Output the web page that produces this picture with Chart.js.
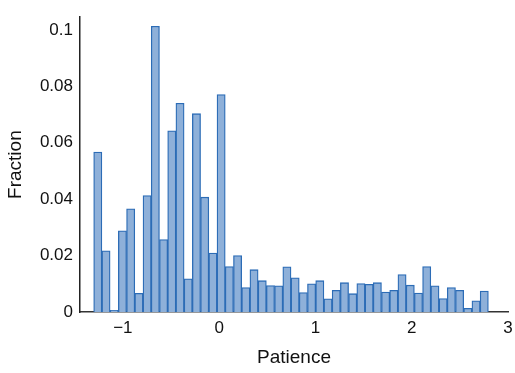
<!DOCTYPE html>
<html>
<head>
<meta charset="utf-8">
<script src="https://cdn.jsdelivr.net/npm/chart.js@4"></script>
<style>
  html, body { margin: 0; padding: 0; background: #fff; }
  #wrap { width: 515px; height: 373px; }
</style>
</head>
<body>
<div id="wrap"><canvas id="histChart" width="515" height="373"></canvas></div>
<script>
// histogram bins: first left edge and width (Patience units)
const binStart = -1.303;
const binWidth = 0.0854;
const fractions = [
  0.0567, 0.0217, 0.0006, 0.0288, 0.0366, 0.0066, 0.0413, 0.1013,
  0.0257, 0.0642, 0.0740, 0.0118, 0.0703, 0.0407, 0.0209, 0.0771,
  0.0161, 0.0200, 0.0087, 0.0150, 0.0111, 0.0094, 0.0093, 0.0160,
  0.0121, 0.0069, 0.0100, 0.0111, 0.0047, 0.0077, 0.0104, 0.0065,
  0.0101, 0.0098, 0.0104, 0.0071, 0.0077, 0.0133, 0.0095, 0.0067,
  0.0161, 0.0093, 0.0048, 0.0087, 0.0077, 0.0013, 0.0040, 0.0074
];
const xTicks = [-1, 0, 1, 2, 3];
const yTicks = [0, 0.02, 0.04, 0.06, 0.08, 0.1];

const points = fractions.map((v, i) => ({ x: binStart + binWidth * (i + 0.5), y: v }));

const fontFamily = "'Liberation Sans', Arial, sans-serif";

new Chart(document.getElementById("histChart"), {
  type: 'bar',
  data: {
    datasets: [{
      data: points,
      backgroundColor: '#8eb0d9',
      borderColor: '#2c6cb6',
      borderWidth: 1.3,
      barPercentage: 1,
      categoryPercentage: 1
    }]
  },
  options: {
    responsive: false,
    animation: false,
    layout: { padding: { top: 5, right: 7, left: 0, bottom: 0 } },
    plugins: { legend: { display: false }, tooltip: { enabled: false } },
    scales: {
      x: {
        type: 'linear',
        offset: false,
        min: -1.445,
        max: 3.0,
        grid: { display: false, drawTicks: false },
        border: { display: true, color: '#333', width: 1.5 },
        afterBuildTicks: axis => { axis.ticks = xTicks.map(v => ({ value: v })); },
        afterFit: axis => {
          axis.height = 61;
          axis.paddingLeft = 0;
          axis.paddingRight = 0;
        },
        ticks: {
          color: '#111',
          padding: 6,
          maxRotation: 0,
          font: { family: fontFamily, size: 17 },
          callback: v => v < 0 ? '\u2212' + Math.abs(v) : String(v)
        },
        title: {
          display: true,
          text: 'Patience',
          color: '#111',
          font: { family: fontFamily, size: 19 },
          padding: { top: 8 }
        }
      },
      y: {
        min: 0,
        max: 0.1045,
        grid: { display: false, drawTicks: false },
        border: { display: true, color: '#222', width: 1.5 },
        afterBuildTicks: axis => { axis.ticks = yTicks.map(v => ({ value: v })); },
        afterFit: axis => { axis.width = 80; },
        ticks: {
          color: '#111',
          padding: 7,
          font: { family: fontFamily, size: 17 },
          callback: v => String(v)
        },
        title: {
          display: true,
          text: 'Fraction',
          color: '#111',
          font: { family: fontFamily, size: 19 },
          padding: { bottom: 4 }
        }
      }
    }
  }
});
</script>
</body>
</html>
